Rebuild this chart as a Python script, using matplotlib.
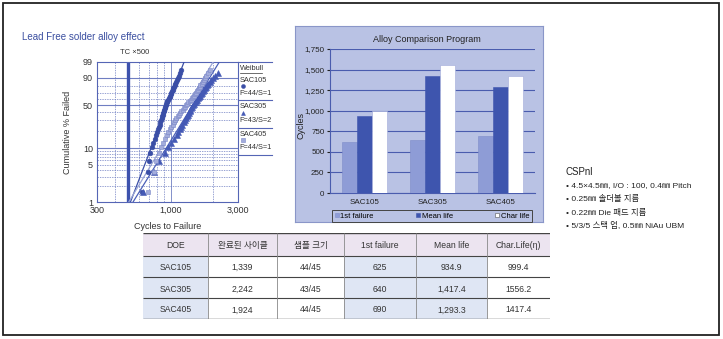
import numpy as np
import matplotlib.pyplot as plt
from matplotlib.patches import Rectangle
from matplotlib.lines import Line2D
from matplotlib.ticker import NullLocator

plt.rcParams['font.family'] = ['Liberation Sans', 'Noto Sans CJK KR', 'DejaVu Sans']

W, H = 723, 339

# Weibull plot data (cycles to failure)
sac105_cycles = [625, 690, 705, 712, 738, 752, 770, 781, 795, 808, 820, 838, 846, 858, 861,
                 872, 880, 887, 893, 901, 908, 917, 925, 931, 938, 948, 960, 972, 985, 996,
                 1004, 1012, 1023, 1035, 1046, 1058, 1066, 1079, 1090, 1104, 1118, 1137, 1162, 1190]
sac305_cycles = [640, 760, 830, 905, 960, 1010, 1060, 1100, 1135, 1160, 1185, 1210, 1235, 1255,
                 1280, 1300, 1320, 1340, 1360, 1380, 1400, 1425, 1445, 1470, 1490, 1515, 1540,
                 1560, 1585, 1610, 1635, 1660, 1690, 1720, 1750, 1780, 1810, 1850, 1890, 1935,
                 1990, 2060, 2180]
sac405_cycles = [690, 760, 790, 820, 850, 880, 910, 935, 960, 985, 1010, 1030, 1050, 1075, 1095,
                 1120, 1140, 1165, 1190, 1215, 1240, 1265, 1290, 1315, 1335, 1360, 1385, 1405,
                 1430, 1455, 1480, 1500, 1525, 1550, 1575, 1600, 1625, 1655, 1685, 1715, 1750,
                 1790, 1840, 1900]
sample_size = 45

alloys = ['SAC105', 'SAC305', 'SAC405']
first_failure = [625, 640, 690]
mean_life = [934.9, 1417.4, 1293.3]
char_life = [999.4, 1556.2, 1417.4]
shape_beta = [7.0, 4.35, 4.45]
fail_susp = ['F=44/S=1', 'F=43/S=2', 'F=44/S=1']

# table
table_header = ['DOE', '완료된 사이클', '샘플 크기', '1st failure', 'Mean life', 'Char.Life(η)']
completed = ['1,339', '2,242', '1,924']
samples = ['44/45', '43/45', '44/45']
first_txt = ['625', '640', '690']
mean_txt = ['934.9', '1,417.4', '1,293.3']
char_txt = ['999.4', '1556.2', '1417.4']

spec_title = 'CSPnl'
spec_lines = ['• 4.5×4.5㎜, I/O : 100, 0.4㎜ Pitch',
              '• 0.25㎜ 솔더볼 지름',
              '• 0.22㎜ Die 패드 지름',
              '• 5/3/5 스택 업, 0.5㎜ NiAu UBM']


def rect(l, t, r, b):
    return [l / W, 1 - b / H, (r - l) / W, (b - t) / H]


def fy(y):
    return 1 - y / H


fig = plt.figure(figsize=(7.23, 3.39), dpi=100)

# outer frame
fig.patches.append(Rectangle((3 / W, fy(335)), 716 / W, 332 / H, transform=fig.transFigure,
                             fill=False, edgecolor='#222222', lw=1.3))

fig.text(22 / W, fy(37), 'Lead Free solder alloy effect', color='#3b4fa0', fontsize=7,
         va='center', ha='left')

# ---- Weibull plot ----
ax = fig.add_axes(rect(97, 62, 238, 202))


def fwd(p):
    p = np.clip(np.asarray(p, dtype=float), 1e-4, 99.9999)
    return np.log(-np.log(1 - p / 100))


def inv(y):
    return 100 * (1 - np.exp(-np.exp(y)))


ax.set_xscale('log')
ax.set_yscale('function', functions=(fwd, inv))
ax.set_xlim(300, 3000)
ax.set_ylim(1, 99)

gcol = '#6f7ec2'
for p in [2, 3, 4, 5, 6, 7, 8, 9, 20, 30, 40, 60, 70, 80]:
    ax.axhline(p, color=gcol, lw=0.5, ls=(0, (2, 1.5)), zorder=1)
for p in [10, 50, 90]:
    ax.axhline(p, color=gcol, lw=0.8, zorder=1)
for c in [400, 600, 700, 800, 900, 2000]:
    ax.axvline(c, color=gcol, lw=0.5, ls=(0, (2, 1.5)), zorder=1)
ax.axvline(1000, color=gcol, lw=0.6, zorder=1)
ax.axvline(500, color='#3d52ad', lw=2.4, zorder=2)

styles = [dict(marker='o', color='#3a4ea6', ms=3.4, mec='#3a4ea6'),
          dict(marker='^', color='#4459b5', ms=3.8, mec='#4459b5'),
          dict(marker='s', color='#a3acdc', ms=3.4, mec='#7b88c8')]
line_cols = ['#3a4ea6', '#4a5fb8', '#9aa5d6']
t = np.geomspace(300, 3000, 400)
for cyc, eta, beta, st, lc in zip([sac105_cycles, sac305_cycles, sac405_cycles],
                                  char_life, shape_beta, styles, line_cols):
    cyc = np.array(cyc)
    ranks = (np.arange(1, len(cyc) + 1) - 0.3) / (sample_size + 0.4) * 100
    fit = 100 * (1 - np.exp(-(t / eta) ** beta))
    m = (fit > 0.3) & (fit < 99.95)
    ax.plot(t[m], fit[m], color=lc, lw=0.9, zorder=3)
    ax.plot(cyc, ranks, ls='none', zorder=4, mew=0.4, **st)

ax.set_xticks([300, 1000, 3000])
ax.set_xticklabels(['300', '1,000', '3,000'])
ax.xaxis.set_minor_locator(NullLocator())
ax.set_yticks([1, 5, 10, 50, 90, 99])
ax.set_yticklabels(['1', '5', '10', '50', '90', '99'])
ax.yaxis.set_minor_locator(NullLocator())
ax.tick_params(length=0, labelsize=6.5, colors='#333333', pad=3)
for s in ax.spines.values():
    s.set_color('#5565b5')
    s.set_linewidth(0.8)
ax.set_xlabel('Cycles to Failure', fontsize=6.5, color='#333333', labelpad=5)
ax.set_ylabel('Cumulative % Failed', fontsize=6.5, color='#333333', labelpad=8)
fig.text(135 / W, fy(53), 'TC ×500', fontsize=5.5, color='#333333', ha='center', va='center')

# Weibull legend box
for yy in [62, 100, 128, 155]:
    fig.add_artist(Line2D([238 / W, 272 / W], [fy(yy), fy(yy)], color='#5565b5', lw=0.8))
fig.text(240 / W, fy(68), 'Weibull', fontsize=5.3, color='#333333', va='center')
fig.add_artist(Line2D([240 / W, 262 / W], [fy(72.5), fy(72.5)], color='#333333', lw=0.5))
for i, (name, fs, st) in enumerate(zip(alloys, fail_susp, styles)):
    y0 = 80 + 27 * i
    fig.text(240 / W, fy(y0), name, fontsize=5.3, color='#333333', va='center')
    fig.add_artist(Line2D([243 / W], [fy(y0 + 6)], ls='none', marker=st['marker'],
                          color=st['color'], mec=st['mec'], ms=2.8, mew=0.4))
    fig.text(239 / W, fy(y0 + 13.5), fs, fontsize=5.3, color='#333333', va='center')

# ---- Bar chart ----
bg = '#b9c2e4'
panel = fig.add_axes(rect(295, 26, 543, 222), zorder=-5)
panel.set_facecolor(bg)
panel.set_xticks([])
panel.set_yticks([])
for s in panel.spines.values():
    s.set_color('#8a96c8')
    s.set_linewidth(0.8)

ax2 = fig.add_axes(rect(330, 49, 535, 193))
ax2.set_facecolor('none')
x = np.arange(len(alloys))
w = 0.22
ax2.bar(x - w, first_failure, w, color='#8e9cd6', edgecolor='#7e8cc9', lw=0.4, zorder=3)
ax2.bar(x, mean_life, w, color='#3e55ae', edgecolor='#3e55ae', lw=0.4, zorder=3)
ax2.bar(x + w, char_life, w, color='white', edgecolor='#a0aad8', lw=0.4, zorder=3)
ax2.set_xlim(-0.5, 2.5)
ax2.set_ylim(0, 1750)
yt = np.arange(0, 1751, 250)
ax2.set_yticks(yt)
ax2.set_yticklabels([f'{v:,}' for v in yt])
ax2.set_xticks(x)
ax2.set_xticklabels(alloys)
ax2.grid(axis='y', color='#4a5cae', lw=0.8, zorder=1)
ax2.set_axisbelow(True)
ax2.tick_params(axis='x', length=0, labelsize=5.8, colors='#222222', pad=4)
ax2.tick_params(axis='y', length=2, labelsize=5.8, colors='#222222', pad=2)
for k in ['top', 'right']:
    ax2.spines[k].set_visible(False)
for k in ['left', 'bottom']:
    ax2.spines[k].set_color('#4a5cae')
ax2.set_ylabel('Cycles', fontsize=6.5, color='#222222')
ax2.yaxis.set_label_coords(-25 / 205, 0.47)
fig.text(427 / W, fy(39), 'Alloy Comparison Program', fontsize=6.5, color='#222222',
         ha='center', va='center')
handles = [Line2D([], [], ls='none', marker='s', ms=3, color='#8e9cd6', mec='#7e8cc9', mew=0.4),
           Line2D([], [], ls='none', marker='s', ms=3, color='#3e55ae', mec='#3e55ae', mew=0.4),
           Line2D([], [], ls='none', marker='s', ms=3, color='white', mec='#555555', mew=0.4)]
leg = fig.legend(handles, ['1st failure', 'Mean life', 'Char life'], loc='center',
                 bbox_to_anchor=(432 / W, fy(216)), ncol=3, fontsize=5.5, frameon=True,
                 fancybox=False, edgecolor='#444444', facecolor=bg, framealpha=1,
                 handlelength=0.6, handletextpad=0.2, columnspacing=5.5,
                 borderpad=0.3, borderaxespad=0)
leg.get_frame().set_linewidth(0.7)

# ---- spec text ----
fig.text(565 / W, fy(172), spec_title, fontsize=7, color='#222222', va='center')
for i, s in enumerate(spec_lines):
    fig.text(566 / W, fy(186 + 13.3 * i), s, fontsize=6, color='#222222', va='center')

# ---- table ----
axt = fig.add_axes(rect(143, 233, 550, 319))
axt.set_xlim(143, 550)
axt.set_ylim(319, 233)
axt.axis('off')
cols = [143, 208, 277, 344, 416, 487, 550]
rows = [233, 255.5, 277, 298, 319]
body = [[a, c, s, f, m, ch] for a, c, s, f, m, ch in
        zip(alloys, completed, samples, first_txt, mean_txt, char_txt)]
cells = [table_header] + body
for r in range(len(cells)):
    for c in range(len(table_header)):
        if r == 0:
            fc = '#ece4f0'
        elif c in (0, 3, 4):
            fc = '#dfe6f4'
        else:
            fc = 'white'
        axt.add_patch(Rectangle((cols[c], rows[r]), cols[c + 1] - cols[c], rows[r + 1] - rows[r],
                                facecolor=fc, edgecolor='none'))
        axt.text((cols[c] + cols[c + 1]) / 2, (rows[r] + rows[r + 1]) / 2 + 0.5, cells[r][c],
                 ha='center', va='center_baseline', fontsize=6.2, color='#333333')
axt.hlines(rows, cols[0], cols[-1], color='#444444', lw=[1.0, 0.8, 0.8, 0.8, 1.0])
axt.vlines(cols[1:-1], rows[0], rows[-1], color='#888888', lw=0.6)

fig.savefig('out.png', dpi=100)
